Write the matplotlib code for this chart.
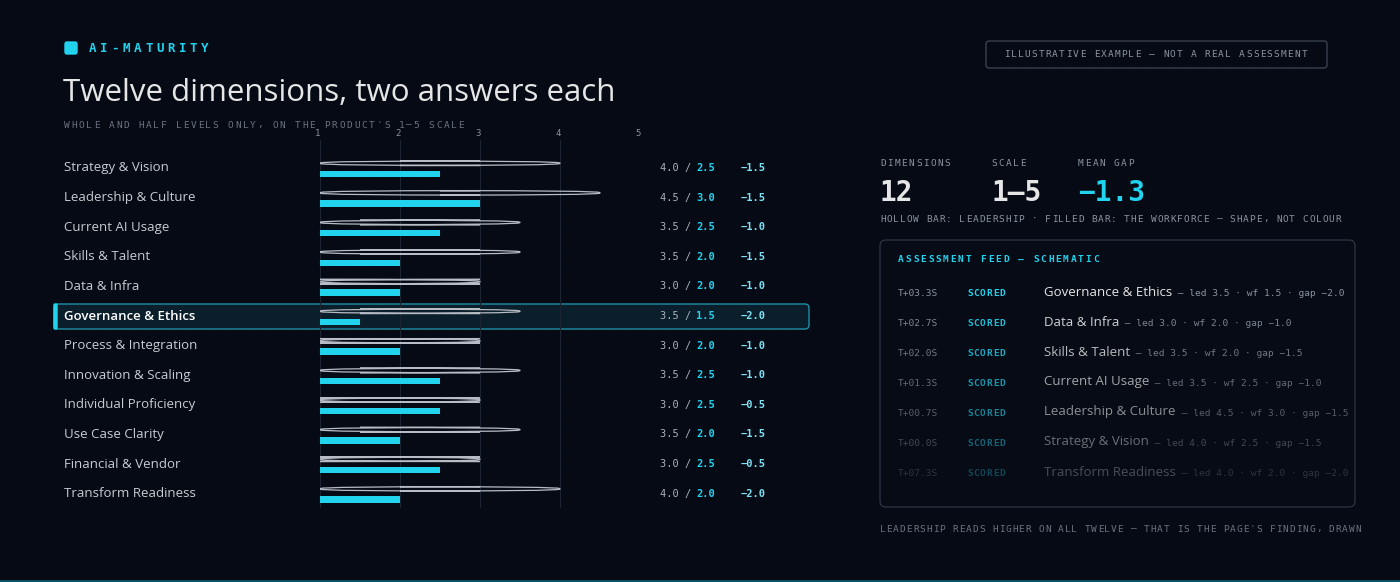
import numpy as np
import matplotlib
matplotlib.use('Agg')
from matplotlib import pyplot as plt
from matplotlib.patches import FancyBboxPatch

dimensions = ['Strategy & Vision', 'Leadership & Culture', 'Current AI Usage', 'Skills & Talent',
              'Data & Infra', 'Governance & Ethics', 'Process & Integration', 'Innovation & Scaling',
              'Individual Proficiency', 'Use Case Clarity', 'Financial & Vendor', 'Transform Readiness']
leadership = [4.0, 4.5, 3.5, 3.5, 3.0, 3.5, 3.0, 3.5, 3.0, 3.5, 3.0, 4.0]
workforce = [2.5, 3.0, 2.5, 2.0, 2.0, 1.5, 2.0, 2.5, 2.5, 2.0, 2.5, 2.0]
mean_gap_label = '\u22121.3'
feed_names = ['Governance & Ethics', 'Data & Infra', 'Skills & Talent', 'Current AI Usage',
              'Leadership & Culture', 'Strategy & Vision', 'Transform Readiness']
feed_times = ['T+03.3S', 'T+02.7S', 'T+02.0S', 'T+01.3S', 'T+00.7S', 'T+00.0S', 'T+07.3S']
feed_wf = {'Transform Readiness': 2.0}

BG = '#050a14'
CYAN = '#22d3ee'
MONO = 'DejaVu Sans Mono'
SANS = 'Open Sans'
W, H = 1400, 582

fig = plt.figure(figsize=(14, 5.82), dpi=100, facecolor=BG)

def T(x, y, s, **kw):
    return fig.text(x / W, 1 - y / H, s, **kw)

def spaced(x, y, s, pitch, ha='left', **kw):
    # letter-spaced mono caps: one char per step of `pitch` px
    if ha == 'center':
        x = x - pitch * len(s) / 2
    for i, ch in enumerate(s):
        if ch != ' ':
            T(x + i * pitch, y, ch, family=MONO, va='center', **kw)

# dot grid background
bg = fig.add_axes([0, 0, 1, 1], zorder=-5)
bg.set_xlim(0, W); bg.set_ylim(H, 0); bg.axis('off')
gx, gy = np.meshgrid(np.arange(10, W, 20), np.arange(10, H, 20))
bg.scatter(gx.ravel(), gy.ravel(), s=0.6, color='#141c2a', lw=0)
bg.plot([0, 700, 1400], [580.5, 580.5, 580.5], color='#0e7490', lw=2, alpha=0.7)

# header
bg.add_patch(FancyBboxPatch((65, 42), 12, 12, boxstyle='round,pad=0,rounding_size=2', color=CYAN))
spaced(89, 48, 'AI-MATURITY', 11.2, color=CYAN, fontsize=9, weight='bold')
T(63, 93, 'Twelve dimensions, two answers each', color='#e6e6e6', family=SANS, fontsize=22.5,
  weight='medium', va='center')
spaced(64, 125, "WHOLE AND HALF LEVELS ONLY, ON THE PRODUCT'S 1\u20135 SCALE", 7.44, color='#6b7280',
       fontsize=6.8)
bg.add_patch(FancyBboxPatch((986, 41), 341, 27, boxstyle='round,pad=0,rounding_size=3',
                            fc='none', ec='#3a4150', lw=1))
spaced(1156, 54.5, 'ILLUSTRATIVE EXAMPLE \u2014 NOT A REAL ASSESSMENT', 6.92, ha='center',
       color='#8b93a1', fontsize=6.8)

# highlight row
hi = dimensions.index('Governance & Ethics')
row_y = [168 + i * 29.6 for i in range(len(dimensions))]
bg.add_patch(FancyBboxPatch((54, row_y[hi] - 12), 755, 25, boxstyle='round,pad=0,rounding_size=4',
                            fc='#0a1f2b', ec='#1f8fa6', lw=1, zorder=1))
bg.add_patch(FancyBboxPatch((54, row_y[hi] - 12), 3, 25, boxstyle='round,pad=0,rounding_size=1',
                            color=CYAN, zorder=2))

# bar axes: x=1 at px 320, x=5 at 640
ax = fig.add_axes([320 / W, 1 - 508 / H, 320 / W, (508 - 140) / H], zorder=2)
ax.set_facecolor('none')
ax.set_xlim(1, 5)
ax.set_ylim(508, 140)
for s in ax.spines.values():
    s.set_visible(False)
ax.set_xticks([]); ax.set_yticks([])
for v in [1, 2, 3, 4, 5]:
    ax.axvline(v, color='#1c2432', lw=0.8, zorder=0)
    T(320 + (v - 1) * 80 - 2, 134, str(v), color='#8b93a1', family=MONO, fontsize=6.5, ha='center', va='center')

for i, name in enumerate(dimensions):
    y = row_y[i]
    ax.add_patch(FancyBboxPatch((1, y - 7), leadership[i] - 1, 4.5,
                                boxstyle='round,pad=0,rounding_size=2', mutation_aspect=1,
                                fc='none', ec='#b8bcc4', lw=0.9, zorder=3))
    ax.barh(y + 6, workforce[i] - 1, left=1, height=6.5, color=CYAN, zorder=3)
    hl = i == hi
    T(64, y, name, color='#ffffff' if hl else '#c9ccd2', family=SANS, fontsize=9.5, va='center',
      weight='semibold' if hl else 'normal', zorder=5)
    gap = workforce[i] - leadership[i]
    T(660, y, f'{leadership[i]:.1f} /', color='#aab0ba', family=MONO, fontsize=7.5, va='center')
    T(696, y, f'{workforce[i]:.1f}', color=CYAN, family=MONO, fontsize=7.5, va='center', weight='bold')
    T(741, y, f'{gap:.1f}'.replace('-', '\u2212'), color='#7fe3f5', family=MONO, fontsize=7.5,
      va='center', weight='bold')

# stats
for x, lab, val, col in [(880, 'DIMENSIONS', str(len(dimensions)), '#e6e6e6'),
                         (991, 'SCALE', '1\u20135', '#e6e6e6'),
                         (1078, 'MEAN GAP', mean_gap_label, CYAN)]:
    spaced(x, 163, lab, 7.2, color='#8b93a1', fontsize=6.8)
    T(x, 193, val, color=col, family=MONO, fontsize=20, weight='bold', va='center')
spaced(880, 219, 'HOLLOW BAR: LEADERSHIP \u00b7 FILLED BAR: THE WORKFORCE \u2014 SHAPE, NOT COLOUR',
       6.6, color='#8b93a1', fontsize=6.8)

# feed panel
bg.add_patch(FancyBboxPatch((880, 240), 475, 267, boxstyle='round,pad=0,rounding_size=6',
                            fc='#060b15', ec='#2a3140', lw=1))
spaced(898, 260, 'ASSESSMENT FEED \u2014 SCHEMATIC', 7.5, color=CYAN, fontsize=6.8, weight='bold')
alphas = [1.0, 0.9, 0.8, 0.7, 0.6, 0.45, 0.3]
for k, name in enumerate(feed_names):
    y = 292 + k * 30
    a = alphas[k]
    i = dimensions.index(name)
    wf = feed_wf.get(name, workforce[i])
    T(898, y + 1, feed_times[k], color='#8b93a1', family=MONO, fontsize=6.8, va='center', alpha=a)
    spaced(967, y + 1, 'SCORED', 6.5, color=CYAN, fontsize=6.8, weight='bold', alpha=a)
    t = T(1044, y, name, color='#e6e6e6', family=SANS, fontsize=9.5, va='center', alpha=a)
    fig.canvas.draw()
    bb = t.get_window_extent()
    detail = f' \u2014 led {leadership[i]:.1f} \u00b7 wf {wf:.1f} \u00b7 gap {wf - leadership[i]:.1f}'.replace('-', '\u2212')
    fig.text(bb.x1 / W, 1 - (y + 1) / H, detail, color='#8b93a1', family=MONO, fontsize=6.8,
             va='center', alpha=a)

spaced(880, 529, "LEADERSHIP READS HIGHER ON ALL TWELVE \u2014 THAT IS THE PAGE'S FINDING, DRAWN",
       6.6, color='#6b7280', fontsize=6.8)

fig.savefig('out.png', dpi=100, facecolor=BG)
